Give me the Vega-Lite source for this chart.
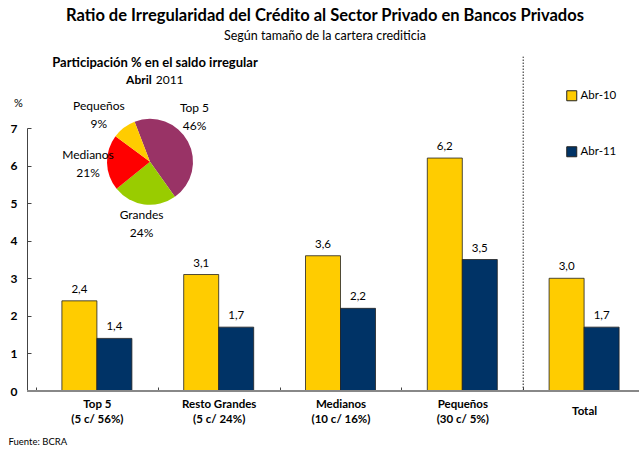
{
  "$schema": "https://vega.github.io/schema/vega-lite/v6.json",
  "width": 612,
  "height": 263,
  "autosize": "none",
  "padding": {"left": 27, "top": 128, "right": 0, "bottom": 60},
  "title": {
    "text": "Ratio de Irregularidad del Crédito al Sector Privado en Bancos Privados",
    "subtitle": "Según tamaño de la cartera crediticia",
    "anchor": "middle",
    "frame": "group",
    "offset": 14,
    "dx": -8,
    "font": "Lato",
    "fontSize": 16.5,
    "fontWeight": "bold",
    "color": "#000",
    "subtitleFont": "Lato",
    "subtitleFontSize": 12.5,
    "subtitleColor": "#000",
    "subtitlePadding": 5
  },
  "layer": [
    {
      "data": {"values": [
        {"cat": "Top 5", "year": "Abr-10", "value": 2.4},
        {"cat": "Top 5", "year": "Abr-11", "value": 1.4},
        {"cat": "Resto Grandes", "year": "Abr-10", "value": 3.1},
        {"cat": "Resto Grandes", "year": "Abr-11", "value": 1.7},
        {"cat": "Medianos", "year": "Abr-10", "value": 3.6},
        {"cat": "Medianos", "year": "Abr-11", "value": 2.2},
        {"cat": "Pequeños", "year": "Abr-10", "value": 6.2},
        {"cat": "Pequeños", "year": "Abr-11", "value": 3.5},
        {"cat": "Total", "year": "Abr-10", "value": 3.0},
        {"cat": "Total", "year": "Abr-11", "value": 1.7}
      ]},
      "layer": [
        {
          "mark": {"type": "bar", "stroke": "#222", "strokeWidth": 0.8},
          "encoding": {
            "x": {
              "field": "cat", "type": "nominal",
              "scale": {"domain": ["Top 5", "Resto Grandes", "Medianos", "Pequeños", "Total"], "range": [9, 618], "paddingInner": 0, "paddingOuter": 0},
              "axis": {
                "title": "Fuente: BCRA",
                "titleX": -19, "titleY": 53, "titleAlign": "left", "titleAnchor": null, "titleBaseline": "alphabetic",
                "titleFontWeight": "normal", "titleFontSize": 9.5, "titleFont": "Lato", "titleColor": "#000",
                "labelAngle": 0,
                "labelExpr": "datum.value === 'Top 5' ? ['Top 5','(5 c/ 56%)'] : datum.value === 'Resto Grandes' ? ['Resto Grandes','(5 c/ 24%)'] : datum.value === 'Medianos' ? ['Medianos','(10 c/ 16%)'] : datum.value === 'Pequeños' ? ['Pequeños','(30 c/ 5%)'] : datum.value === 'Total' ? 'Total' : ''",
                "labelFontWeight": "bold", "labelFontSize": 11.5, "labelFont": "Lato", "labelColor": "#000",
                "labelLineHeight": 15,
                "labelPadding": {"condition": {"test": "datum.value === 'Total'", "value": 18}, "value": 11},
                "tickBand": "extent", "tickSize": -4, "tickColor": "#444",
                "domain": false, "grid": false
              }
            },
            "xOffset": {"field": "year", "type": "nominal", "scale": {"domain": ["Abr-10", "Abr-11"], "paddingInner": 0, "paddingOuter": 0.74}},
            "y": {
              "field": "value", "type": "quantitative",
              "scale": {"domain": [0, 7], "nice": false},
              "axis": {"title": "%", "values": [0, 1, 2, 3, 4, 5, 6, 7]}
            },
            "color": {
              "field": "year", "type": "nominal",
              "scale": {"domain": ["Abr-10", "Abr-11"], "range": ["#FFCC00", "#003366"]},
              "legend": {
                "orient": "none", "legendX": 539, "legendY": -38, "title": null,
                "symbolType": "square", "symbolSize": 100, "rowPadding": 41,
                "symbolStrokeColor": "#222", "symbolStrokeWidth": 1,
                "labelFont": "Lato", "labelFontSize": 11.5, "labelColor": "#000", "labelOffset": 3
              }
            }
          }
        },
        {
          "mark": {"type": "text", "baseline": "bottom", "dy": -6, "font": "Lato", "fontSize": 11.5, "color": "#000"},
          "encoding": {
            "x": {"field": "cat", "type": "nominal"},
            "xOffset": {"field": "year", "type": "nominal"},
            "y": {"field": "value", "type": "quantitative", "axis": {"title": "%", "values": [0, 1, 2, 3, 4, 5, 6, 7]}},
            "text": {"field": "value", "type": "quantitative", "format": ".1f"}
          }
        }
      ]
    },
    {
      "data": {"values": [{}]},
      "mark": {"type": "rule", "strokeDash": [1.5, 1.5], "color": "#222", "strokeWidth": 1},
      "encoding": {
        "x": {"datum": "Total", "bandPosition": 0},
        "y": {"datum": 0, "axis": {"title": "%", "values": [0, 1, 2, 3, 4, 5, 6, 7]}},
        "y2": {"datum": 8.9}
      }
    },
    {
      "data": {"values": [{}]},
      "mark": {"type": "rule", "color": "#888", "strokeWidth": 2},
      "encoding": {"y": {"datum": 0, "axis": {"title": "%", "values": [0, 1, 2, 3, 4, 5, 6, 7]}}}
    },
    {
      "data": {"values": [
        {"seg": "Top 5", "pct": 46, "label": "Top 5\n46%"},
        {"seg": "Grandes", "pct": 24, "label": "Grandes\n24%"},
        {"seg": "Medianos", "pct": 21, "label": "Medianos\n21%"},
        {"seg": "Pequeños", "pct": 9, "label": "Pequeños\n9%"}
      ]},
      "layer": [
        {
          "mark": {"type": "arc", "outerRadius": 43},
          "encoding": {
            "x": {"datum": "Top 5", "bandPosition": 0.936},
            "y": {"datum": 6.1, "axis": {"title": "%", "values": [0, 1, 2, 3, 4, 5, 6, 7]}},
            "theta": {"field": "pct", "type": "quantitative", "stack": true, "scale": {"domain": [0, 100], "range": [-0.3665, 5.9167]}},
            "order": {"field": "pct", "sort": "descending"},
            "color": {
              "field": "seg", "type": "nominal",
              "scale": {"domain": ["Top 5", "Grandes", "Medianos", "Pequeños"], "range": ["#993366", "#99CC00", "#FF0000", "#FFCC00"]},
              "legend": null
            }
          }
        },
        {
          "mark": {"type": "text", "lineBreak": "\n", "lineHeight": 18, "baseline": "middle", "align": "center", "dy": -8, "font": "Lato", "fontSize": 12, "color": "#000"},
          "encoding": {
            "x": {"datum": "Top 5", "bandPosition": 0.936},
            "y": {"datum": 6.1, "axis": {"title": "%", "values": [0, 1, 2, 3, 4, 5, 6, 7]}},
            "theta": {"field": "pct", "type": "quantitative", "stack": true},
            "order": {"field": "pct", "sort": "descending"},
            "radius": {"condition": [{"test": "datum.seg === 'Medianos'", "value": 75}], "value": 62},
            "text": {"condition": {"test": "datum.seg === 'Top 5' || datum.seg === 'Pequeños'", "value": ""}, "field": "label"}
          }
        }
      ]
    },
    {
      "data": {"values": [{}]},
      "mark": {"type": "text", "text": ["Top 5", "46%"], "lineHeight": 18, "baseline": "middle", "align": "center", "dy": -8, "font": "Lato", "fontSize": 12, "color": "#000"},
      "encoding": {
        "x": {"datum": "Top 5", "bandPosition": 0.936},
        "y": {"datum": 6.1, "axis": {"title": "%", "values": [0, 1, 2, 3, 4, 5, 6, 7]}},
        "theta": {"datum": 18.06},
        "radius": {"value": 64}
      }
    },
    {
      "data": {"values": [{}]},
      "mark": {"type": "text", "text": ["Pequeños", "9%"], "lineHeight": 18, "baseline": "middle", "align": "center", "dy": -8, "font": "Lato", "fontSize": 12, "color": "#000"},
      "encoding": {
        "x": {"datum": "Top 5", "bandPosition": 0.936},
        "y": {"datum": 6.1, "axis": {"title": "%", "values": [0, 1, 2, 3, 4, 5, 6, 7]}},
        "theta": {"datum": 92.8},
        "radius": {"value": 70}
      }
    },
    {
      "data": {"values": [{}]},
      "mark": {"type": "text", "text": "Participación % en el saldo irregular", "baseline": "middle", "align": "center", "font": "Lato", "fontSize": 13, "fontWeight": "bold", "color": "#000"},
      "encoding": {
        "x": {"datum": "Top 5", "bandPosition": 0.977},
        "y": {"datum": 8.73, "axis": {"title": "%", "values": [0, 1, 2, 3, 4, 5, 6, 7]}}
      }
    },
    {
      "data": {"values": [{}]},
      "mark": {"type": "text", "text": "Abril", "baseline": "middle", "align": "right", "font": "Lato", "fontSize": 12, "fontWeight": "bold", "color": "#000"},
      "encoding": {
        "x": {"datum": "Top 5", "bandPosition": 0.95},
        "y": {"datum": 8.28, "axis": {"title": "%", "values": [0, 1, 2, 3, 4, 5, 6, 7]}}
      }
    },
    {
      "data": {"values": [{}]},
      "mark": {"type": "text", "text": "2011", "baseline": "middle", "align": "left", "dx": 4, "font": "Lato", "fontSize": 12, "color": "#000"},
      "encoding": {
        "x": {"datum": "Top 5", "bandPosition": 0.95},
        "y": {"datum": 8.28, "axis": {"title": "%", "values": [0, 1, 2, 3, 4, 5, 6, 7]}}
      }
    }
  ],
  "resolve": {"scale": {"color": "independent"}, "legend": {"color": "independent"}},
  "config": {
    "view": {"stroke": null},
    "font": "Lato",
    "locale": {"number": {"decimal": ",", "thousands": ".", "grouping": [3], "currency": ["$", ""]}},
    "axisY": {
      "titleAngle": 0, "titleX": -9, "titleY": -25, "titleAlign": "center", "titleBaseline": "middle",
      "titleFontWeight": "normal", "titleFontSize": 11, "titleFont": "Lato", "titleColor": "#000",
      "labelOverlap": false,
      "labelFontWeight": "bold", "labelFontSize": 12, "labelFont": "Lato", "labelColor": "#000",
      "labelPadding": 14, "tickSize": -4, "tickColor": "#444", "domainColor": "#444", "grid": false
    }
  }
}
